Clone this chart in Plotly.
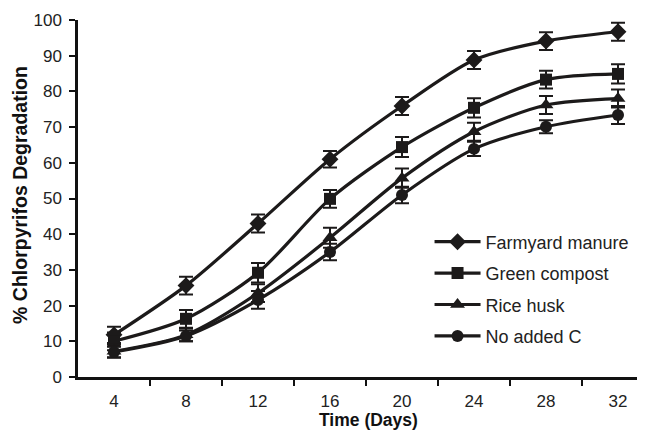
import plotly.graph_objects as go

days = [4, 8, 12, 16, 20, 24, 28, 32]
tick_between = [6, 10, 14, 18, 22, 26, 30]
series_names = ["Farmyard manure", "Green compost", "Rice husk", "No added C"]
farmyard = [11.8, 25.6, 43.0, 61.0, 75.9, 88.8, 94.1, 96.7]
farmyard_err = [2.3, 2.5, 2.5, 2.3, 2.5, 2.5, 2.5, 2.5]
green = [10.0, 16.3, 29.2, 49.9, 64.4, 75.4, 83.3, 84.9]
green_err = [2.5, 2.5, 2.7, 2.5, 2.8, 2.7, 2.5, 2.7]
rice = [7.2, 11.8, 23.5, 39.0, 55.7, 68.7, 76.2, 78.0]
rice_err = [1.8, 1.8, 2.5, 2.8, 2.7, 2.5, 2.5, 2.5]
noadd = [7.0, 11.5, 21.6, 35.0, 51.0, 63.9, 70.1, 73.4]
noadd_err = [1.5, 1.5, 2.5, 2.3, 2.3, 2.0, 1.8, 2.5]
y_ticks = [0, 10, 20, 30, 40, 50, 60, 70, 80, 90, 100]
x_title = "<b>Time (Days)</b>"
y_title = "<b>% Chlorpyrifos Degradation</b>"

col = "#1c1a1a"
symbols = ["diamond", "square", "triangle-up", "circle"]
sizes = [13, 12, 13, 12]
data = [(farmyard, farmyard_err), (green, green_err), (rice, rice_err), (noadd, noadd_err)]

fig = go.Figure()
for i, (name, (vals, errs), sym, sz) in enumerate(zip(series_names, data, symbols, sizes)):
    fig.add_trace(go.Scatter(
        x=days, y=vals, name=name, mode="lines+markers", legendgroup=f"g{i}",
        line=dict(color=col, width=3.2, shape="spline", smoothing=0.8),
        marker=dict(symbol=sym, size=sz, color=col),
        error_y=dict(type="data", array=errs, visible=True, color=col, thickness=2, width=7),
    ))

font_fam = "Liberation Sans, Arial, sans-serif"
fig.update_layout(
    width=637, height=422,
    margin=dict(l=70, r=0, t=12, b=53),
    paper_bgcolor="white", plot_bgcolor="white",
    font=dict(family=font_fam, size=17, color="#222"),
    showlegend=True,
    legend=dict(x=0.62, y=0.43, xanchor="left", yanchor="top",
                font=dict(size=18, color="#222"), bgcolor="rgba(0,0,0,0)",
                tracegroupgap=5, itemwidth=46),
    xaxis=dict(range=[2, 33.5], tickvals=days, ticktext=[str(d) for d in days],
               ticks="outside", ticklen=7, tickcolor="rgba(0,0,0,0)",
               showgrid=False, zeroline=False, automargin=False,
               showline=True, linecolor="#111", linewidth=2.5,
               tickfont=dict(size=17),
               minor=dict(tickvals=tick_between, ticks="outside", ticklen=6,
                          tickwidth=2, tickcolor="#111", showgrid=False)),
    yaxis=dict(range=[0, 100], tickvals=y_ticks, ticks="outside", ticklen=6,
               tickwidth=2, tickcolor="#111", showgrid=False, zeroline=False,
               showline=True, linecolor="#111", linewidth=2.5, automargin=False,
               tickfont=dict(size=17), ticklabelstandoff=4),
    annotations=[
        dict(text=x_title, xref="paper", yref="paper", x=0.513, y=0, yanchor="middle",
             yshift=-43, showarrow=False, font=dict(size=17.5, color="#111")),
        dict(text=y_title, xref="paper", yref="paper", x=0, y=0.51, xanchor="center",
             xshift=-58, textangle=-90, showarrow=False, font=dict(size=19.5, color="#111")),
    ],
)
fig.write_html("out.html")
